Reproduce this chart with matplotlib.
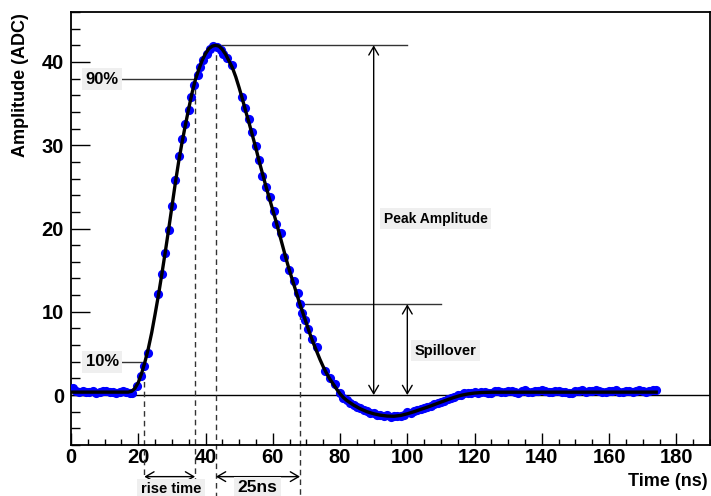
import numpy as np
import matplotlib
matplotlib.use("Agg")
import matplotlib.pyplot as plt
from matplotlib.ticker import MultipleLocator

plt.rcParams['font.family'] = ['Liberation Sans', 'DejaVu Sans']
plt.rcParams['font.weight'] = 'bold'

# measured samples (blue dots)
t_base = [0.5, 1.5, 2.5, 3.5, 4.5, 5.5, 6.5, 7.5, 8.5, 9.5, 10.5, 11.5, 12.5, 13.5, 14.5, 15.5, 16.5, 17.5]
y_base = [0.8, 0.5, 0.4, 0.5, 0.35, 0.4, 0.45, 0.3, 0.4, 0.5, 0.45, 0.35, 0.4, 0.3, 0.35, 0.45, 0.4, 0.3]

t_pulse = [18.0, 19.5, 20.7, 21.8, 23.0, 26.0, 27.0, 28.0, 29.0, 30.0, 31.0, 32.0, 33.0, 34.0, 35.0,
           35.8, 36.7, 37.7, 38.4, 39.3, 40.3, 41.3, 42.3, 43.3, 44.5, 45.3, 46.3, 47.8, 50.7, 51.7,
           52.9, 53.7, 54.9, 55.9, 56.7, 57.9, 59.1, 60.3, 61.1, 62.3, 63.4, 64.8, 66.3, 67.4, 68.1,
           68.7, 69.5, 70.5, 71.7, 73.0, 75.5, 77.0, 78.5, 79.9]
y_pulse = [0.3, 1.05, 2.25, 3.45, 5.05, 12.1, 14.5, 17.1, 19.8, 22.7, 25.8, 28.7, 30.7, 32.5, 34.2,
           35.8, 37.2, 38.4, 39.4, 40.2, 41.0, 41.6, 41.9, 41.8, 41.4, 41.0, 40.5, 39.6, 35.8, 34.5,
           33.1, 31.6, 29.9, 28.2, 26.3, 25.0, 23.8, 22.1, 20.6, 19.4, 16.6, 15.0, 13.7, 12.3, 10.9,
           9.8, 9.0, 7.9, 6.7, 5.8, 2.9, 2.0, 1.3, 0.2]

t_under = list(range(81, 125))
y_under = [-0.35, -0.6, -0.95, -1.15, -1.4, -1.6, -1.85, -1.95, -2.15, -2.2, -2.35, -2.45, -2.5, -2.45,
           -2.6, -2.55, -2.5, -2.5, -2.35, -2.0, -2.1, -1.95, -1.8, -1.7, -1.55, -1.4, -1.3, -1.1,
           -0.95, -0.8, -0.7, -0.45, -0.35, -0.2, -0.05, 0.05, 0.2, 0.25, 0.3, 0.35, 0.3, 0.4, 0.35, 0.3]

t_tail = list(range(125, 175))
y_tail = [0.25, 0.45, 0.5, 0.4, 0.35, 0.45, 0.5, 0.4, 0.3, 0.45, 0.55, 0.4, 0.35, 0.5, 0.45, 0.6, 0.5,
          0.4, 0.35, 0.45, 0.5, 0.4, 0.35, 0.3, 0.25, 0.45, 0.5, 0.55, 0.4, 0.45, 0.5, 0.6, 0.45, 0.4,
          0.35, 0.5, 0.45, 0.55, 0.4, 0.35, 0.45, 0.5, 0.4, 0.45, 0.55, 0.5, 0.4, 0.45, 0.6, 0.55]

# fitted pulse shape (black line)
t_fit = [0, 17, 18, 19, 20, 21, 22, 23, 24, 25, 26, 27, 28, 29, 30, 31, 32, 33, 34, 35, 36, 37, 38, 39,
         40, 41, 42, 43, 44, 45, 46, 47, 48, 49, 50, 51, 52, 53, 54, 55, 56, 57, 58, 59, 60, 61, 62,
         63, 64, 65, 66, 67, 68, 69, 70, 71, 72, 73, 74, 75, 76, 77, 78, 79, 80, 81, 82, 84, 86, 88,
         90, 92, 94, 96, 98, 100, 102, 104, 106, 108, 110, 112, 114, 116, 118, 120, 122, 125, 174]
y_fit = [0.35, 0.35, 0.45, 0.8, 1.5, 2.6, 4.0, 5.6, 7.5, 9.7, 12.0, 14.5, 17.1, 19.8, 22.6, 25.4, 28.0,
         30.3, 32.4, 34.4, 36.3, 37.9, 39.1, 40.2, 41.0, 41.6, 41.9, 42.0, 41.9, 41.5, 40.9, 40.1, 39.3,
         38.2, 36.9, 35.5, 34.0, 32.6, 31.1, 29.6, 28.0, 26.5, 25.0, 23.6, 22.2, 20.8, 19.3, 17.8, 16.3,
         14.9, 13.6, 12.3, 11.0, 9.8, 8.6, 7.4, 6.3, 5.3, 4.3, 3.4, 2.6, 1.9, 1.3, 0.7, 0.15, -0.3,
         -0.65, -1.2, -1.65, -2.0, -2.25, -2.42, -2.52, -2.55, -2.45, -2.25, -2.0, -1.72, -1.45, -1.15,
         -0.85, -0.55, -0.27, -0.03, 0.13, 0.24, 0.3, 0.34, 0.35]

t10, t90, tpeak, tspill = 21.8, 36.9, 43.1, 68.1
y10, y90, ypeak, yspill = 4.0, 37.9, 42.0, 10.9

fig = plt.figure(figsize=(7.11, 4.96), dpi=100)
ax = fig.add_axes([71/711, 1 - 445/496, 639/711, 433/496])

t_dots = t_base + t_pulse + t_under + t_tail
y_dots = y_base + y_pulse + y_under + y_tail
ax.plot(t_dots, y_dots, 'o', color='#0000ff', markersize=6.6, markeredgewidth=0, zorder=3)
ax.plot(t_fit, y_fit, '-', color='black', lw=2.4, zorder=4)

ax.set_xlim(0, 190)
ax.set_ylim(-6, 46)
ax.axhline(0, color='black', lw=1)

# level lines
lc = '#333333'
ax.plot([15.2, t90], [y90, y90], color=lc, lw=1)
ax.plot([15.2, t10], [y10, y10], color=lc, lw=1)
ax.plot([tpeak, 100], [ypeak, ypeak], color=lc, lw=1)
ax.plot([tspill, 110], [yspill, yspill], color=lc, lw=1)

# dashed drop lines, going below the frame
for tx, ty in [(t10, y10), (t90, y90), (tpeak, ypeak), (tspill, yspill)]:
    ax.plot([tx, tx], [ty, -12.5], color=lc, lw=1, ls=(0, (4, 3)), clip_on=False)

arr = dict(arrowstyle='<->, head_length=0.6, head_width=0.35', color='black', lw=1,
           shrinkA=0, shrinkB=0)
ax.annotate('', xy=(90, ypeak), xytext=(90, 0), arrowprops=arr)
ax.annotate('', xy=(100, yspill), xytext=(100, 0), arrowprops=arr)
ax.annotate('', xy=(t10, -9.8), xytext=(t90, -9.8), arrowprops=arr, annotation_clip=False)
ax.annotate('', xy=(tpeak, -9.8), xytext=(tspill, -9.8), arrowprops=arr, annotation_clip=False)

box = dict(facecolor='#efefef', edgecolor='none', pad=2.5)
ax.text(9.3, y90, '90%', fontsize=12, ha='center', va='center', bbox=box)
ax.text(9.3, y10, '10%', fontsize=12, ha='center', va='center', bbox=box)
ax.text(108.5, 21.2, 'Peak Amplitude', fontsize=10, ha='center', va='center', bbox=box)
ax.text(111.4, 5.3, 'Spillover', fontsize=10.5, ha='center', va='center', bbox=box)
ax.text(29.7, -11.3, 'rise time', fontsize=10.5, ha='center', va='center', bbox=box, clip_on=False)
ax.text(55.5, -11.15, '25ns', fontsize=12.5, ha='center', va='center', bbox=box, clip_on=False)

ax.xaxis.set_major_locator(MultipleLocator(20))
ax.xaxis.set_minor_locator(MultipleLocator(5))
ax.yaxis.set_major_locator(MultipleLocator(10))
ax.yaxis.set_minor_locator(MultipleLocator(2))
ax.tick_params(axis='x', which='major', direction='in', length=9, width=1, labelsize=14.5, pad=2)
ax.tick_params(axis='x', which='minor', direction='in', length=4.5, width=1)
ax.tick_params(axis='y', which='major', direction='in', length=13.5, width=1, labelsize=14.5, pad=5)
ax.tick_params(axis='y', which='minor', direction='in', length=6.8, width=1)
for lab in ax.get_xticklabels() + ax.get_yticklabels():
    lab.set_fontweight('bold')
for sp in ax.spines.values():
    sp.set_linewidth(1.3)

fig.text(708/711, 1 - 481/496, 'Time (ns)', fontsize=13, fontweight='bold', ha='right', va='center')
fig.text(21/711, 1 - 13/496, 'Amplitude (ADC)', fontsize=13, fontweight='bold', rotation=90,
         ha='center', va='top')

fig.savefig('out.png', dpi=100)
